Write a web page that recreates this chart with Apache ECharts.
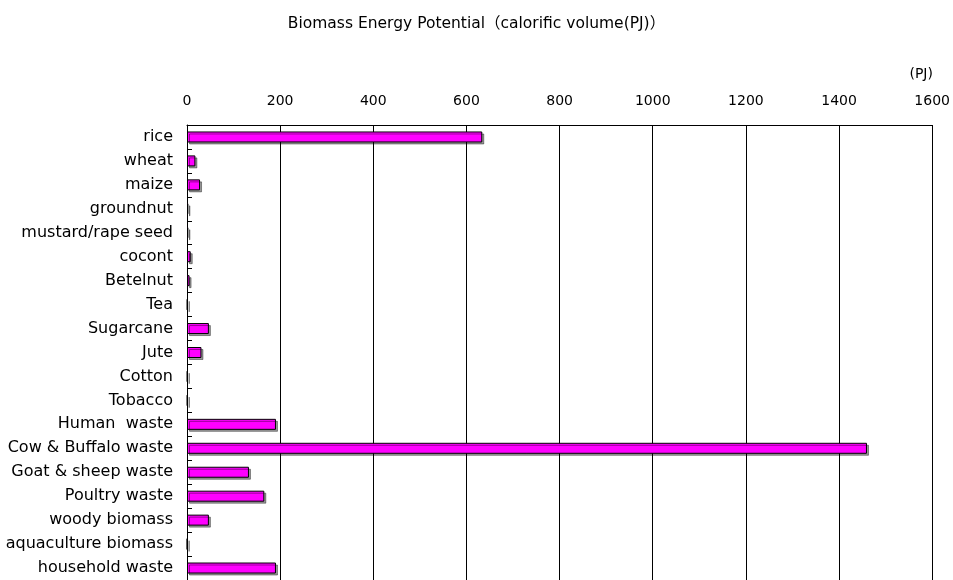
<!DOCTYPE html>
<html>
<head>
<meta charset="utf-8">
<script src="https://cdn.jsdelivr.net/npm/echarts@6/dist/echarts.min.js"></script>
<style>
  html, body { margin: 0; padding: 0; background: #fff; }
  #chart { width: 953px; height: 580px; }
</style>
</head>
<body>
<div id="chart"></div>
<script>
// Biomass categories, top to bottom
const categories = [
  'rice', 'wheat', 'maize', 'groundnut', 'mustard/rape seed', 'cocont',
  'Betelnut', 'Tea', 'Sugarcane', 'Jute', 'Cotton', 'Tobacco',
  'Human  waste', 'Cow & Buffalo waste', 'Goat & sheep waste',
  'Poultry waste', 'woody biomass', 'aquaculture biomass', 'household waste'
];

// Calorific volume in PJ
const potentialPJ = [
  634, 18, 28, 3, 3, 8,
  5.5, 1, 47, 31, 1, 1,
  191, 1460, 133,
  166, 47, 0.5, 191
];

const xTicks = { min: 0, max: 1600, interval: 200 };

const fontFamily = '"DejaVu Sans", Verdana, sans-serif';

const chart = echarts.init(document.getElementById('chart'), null, { renderer: 'canvas' });

chart.setOption({
  backgroundColor: '#ffffff',
  animation: false,
  title: {
    text: 'Biomass Energy Potential（calorific volume(PJ)）',
    left: 'center',
    top: 11,
    textStyle: { fontFamily: '"DejaVu Sans", "Noto Sans CJK JP", sans-serif', fontSize: 15.5, fontWeight: 'normal', color: '#000' }
  },
  grid: { left: 187, right: 20, top: 125, height: 457, containLabel: false },
  xAxis: {
    type: 'value',
    position: 'top',
    min: xTicks.min,
    max: xTicks.max,
    interval: xTicks.interval,
    name: '(PJ)',
    nameLocation: 'end',
    nameGap: 0,
    nameTextStyle: { fontFamily: fontFamily, fontSize: 14, color: '#000', align: 'center', verticalAlign: 'bottom', padding: [0, 0, 44, -22] },
    axisLine: { show: true, lineStyle: { color: '#000', width: 1 } },
    axisTick: { show: false },
    axisLabel: { fontFamily: fontFamily, fontSize: 14, color: '#000', margin: 17, formatter: v => String(v) },
    splitLine: { show: true, lineStyle: { color: '#000', width: 1 } }
  },
  yAxis: {
    type: 'category',
    data: categories,
    inverse: true,
    axisLine: { show: true, lineStyle: { color: '#000', width: 1 } },
    axisTick: { show: true, inside: true, length: 5, lineStyle: { color: '#000' } },
    axisLabel: { fontFamily: fontFamily, fontSize: 16, color: '#000', margin: 14 },
    splitLine: { show: false }
  },
  series: [{
    type: 'bar',
    data: potentialPJ,
    barWidth: 11,
    itemStyle: {
      color: '#ff00ff',
      borderColor: '#000',
      borderWidth: 1,
      shadowColor: 'rgba(0,0,0,0.4)',
      shadowOffsetX: 2,
      shadowOffsetY: 2,
      shadowBlur: 0
    }
  }]
});
</script>
</body>
</html>
